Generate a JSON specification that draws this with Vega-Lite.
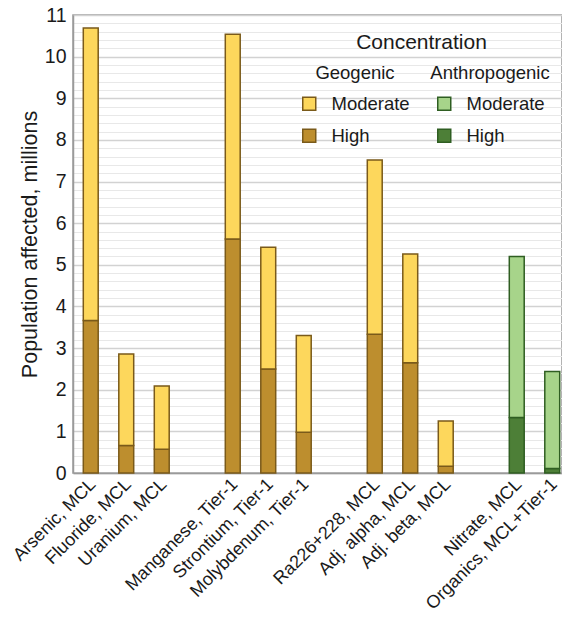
{
  "$schema": "https://vega.github.io/schema/vega-lite/v6.json",
  "autosize": "none",
  "width": 489,
  "height": 458,
  "padding": {"left": 73, "top": 15, "right": 0, "bottom": 146},
  "background": "white",
  "config": {
    "font": "Liberation Sans",
    "view": {"stroke": "#9a9a9a", "strokeWidth": 1.5},
    "axis": {"labelColor": "#1a1a1a", "titleColor": "#1a1a1a"}
  },
  "title": {
    "text": "Concentration",
    "anchor": "middle",
    "frame": "group",
    "orient": "top",
    "offset": 0,
    "dx": 104,
    "dy": 65,
    "baseline": "alphabetic",
    "fontSize": 21,
    "fontWeight": "normal",
    "color": "#1a1a1a"
  },
  "data": {
    "values": [
      {"item": "Arsenic, MCL", "source": "Geogenic", "level": "High", "ord": 0, "value": 3.66},
      {"item": "Arsenic, MCL", "source": "Geogenic", "level": "Moderate", "ord": 1, "value": 7.03},
      {"item": "Fluoride, MCL", "source": "Geogenic", "level": "High", "ord": 0, "value": 0.66},
      {"item": "Fluoride, MCL", "source": "Geogenic", "level": "Moderate", "ord": 1, "value": 2.2},
      {"item": "Uranium, MCL", "source": "Geogenic", "level": "High", "ord": 0, "value": 0.57},
      {"item": "Uranium, MCL", "source": "Geogenic", "level": "Moderate", "ord": 1, "value": 1.52},
      {"item": "Manganese, Tier-1", "source": "Geogenic", "level": "High", "ord": 0, "value": 5.62},
      {"item": "Manganese, Tier-1", "source": "Geogenic", "level": "Moderate", "ord": 1, "value": 4.92},
      {"item": "Strontium, Tier-1", "source": "Geogenic", "level": "High", "ord": 0, "value": 2.5},
      {"item": "Strontium, Tier-1", "source": "Geogenic", "level": "Moderate", "ord": 1, "value": 2.92},
      {"item": "Molybdenum, Tier-1", "source": "Geogenic", "level": "High", "ord": 0, "value": 0.98},
      {"item": "Molybdenum, Tier-1", "source": "Geogenic", "level": "Moderate", "ord": 1, "value": 2.32},
      {"item": "Ra226+228, MCL", "source": "Geogenic", "level": "High", "ord": 0, "value": 3.33},
      {"item": "Ra226+228, MCL", "source": "Geogenic", "level": "Moderate", "ord": 1, "value": 4.19},
      {"item": "Adj. alpha, MCL", "source": "Geogenic", "level": "High", "ord": 0, "value": 2.65},
      {"item": "Adj. alpha, MCL", "source": "Geogenic", "level": "Moderate", "ord": 1, "value": 2.61},
      {"item": "Adj. beta, MCL", "source": "Geogenic", "level": "High", "ord": 0, "value": 0.16},
      {"item": "Adj. beta, MCL", "source": "Geogenic", "level": "Moderate", "ord": 1, "value": 1.09},
      {"item": "Nitrate, MCL", "source": "Anthropogenic", "level": "High", "ord": 0, "value": 1.33},
      {"item": "Nitrate, MCL", "source": "Anthropogenic", "level": "Moderate", "ord": 1, "value": 3.87},
      {"item": "Organics, MCL+Tier-1", "source": "Anthropogenic", "level": "High", "ord": 0, "value": 0.11},
      {"item": "Organics, MCL+Tier-1", "source": "Anthropogenic", "level": "Moderate", "ord": 1, "value": 2.33}
    ]
  },
  "encoding": {
    "x": {
      "field": "item",
      "type": "nominal",
      "scale": {
        "domain": ["Arsenic, MCL", "Fluoride, MCL", "Uranium, MCL", " ", "Manganese, Tier-1", "Strontium, Tier-1", "Molybdenum, Tier-1", "  ", "Ra226+228, MCL", "Adj. alpha, MCL", "Adj. beta, MCL", "   ", "Nitrate, MCL", "Organics, MCL+Tier-1"],
        "range": [0, 497],
        "paddingInner": 0.58,
        "paddingOuter": 0.29
      },
      "axis": {
        "title": null,
        "labelAngle": -45,
        "labelAlign": "right",
        "labelBaseline": "top",
        "labelFontSize": 18,
        "labelPadding": 2,
        "labelOffset": -4,
        "labelLimit": 0,
        "ticks": false,
        "domainColor": "#9a9a9a",
        "domainWidth": 1.5,
        "labelOverlap": false
      }
    },
    "y": {
      "field": "value",
      "type": "quantitative",
      "stack": "zero",
      "scale": {"domain": [0, 11], "nice": false},
      "axis": {
        "title": "Population affected, millions",
        "titleFontSize": 21.5,
        "titleFontWeight": "normal",
        "titlePadding": 3,
        "labelFontSize": 19.5,
        "labelPadding": 7,
        "ticks": false,
        "domainColor": "#9a9a9a",
        "domainWidth": 1.5,
        "values": [0, 0.2, 0.4, 0.6, 0.8, 1, 1.2, 1.4, 1.6, 1.8, 2, 2.2, 2.4, 2.6, 2.8, 3, 3.2, 3.4, 3.6, 3.8, 4, 4.2, 4.4, 4.6, 4.8, 5, 5.2, 5.4, 5.6, 5.8, 6, 6.2, 6.4, 6.6, 6.8, 7, 7.2, 7.4, 7.6, 7.8, 8, 8.2, 8.4, 8.6, 8.8, 9, 9.2, 9.4, 9.6, 9.8, 10, 10.2, 10.4, 10.6, 10.8, 11],
        "labelExpr": "datum.value % 1 === 0 ? format(datum.value, 'd') : ''",
        "gridColor": {"condition": {"test": "datum.value % 1 === 0", "value": "#d2d2d2"}, "value": "#e8e8e8"},
        "gridWidth": {"condition": {"test": "datum.value % 1 === 0", "value": 1.5}, "value": 1},
        "labelOverlap": false
      }
    },
    "order": {"field": "ord", "type": "quantitative"}
  },
  "layer": [
    {
      "transform": [{"filter": "datum.source === 'Geogenic'"}],
      "mark": {"type": "bar", "stroke": "#7a5a1a", "strokeWidth": 1.5},
      "encoding": {
        "color": {
          "field": "level",
          "type": "nominal",
          "scale": {"domain": ["Moderate", "High"], "range": ["#fdd75c", "#bd8e2e"]},
          "legend": {
            "title": "Geogenic",
            "orient": "none",
            "legendX": 227,
            "legendY": 49,
            "titleFontSize": 18.5,
            "titleFontWeight": "normal",
            "titleAnchor": "middle",
            "titlePadding": 12,
            "labelFontSize": 18.5,
            "labelOffset": 13,
            "rowPadding": 12,
            "symbolType": "square",
            "symbolSize": 169,
            "symbolStrokeColor": "#7a5a1a",
            "symbolStrokeWidth": 1.5,
            "symbolOpacity": 1,
            "padding": 0,
            "titleColor": "#1a1a1a",
            "labelColor": "#1a1a1a"
          }
        }
      }
    },
    {
      "transform": [{"filter": "datum.source === 'Anthropogenic'"}],
      "mark": {"type": "bar", "stroke": "#2f5e22", "strokeWidth": 1.5},
      "encoding": {
        "color": {
          "field": "level",
          "type": "nominal",
          "scale": {"domain": ["Moderate", "High"], "range": ["#a7d48a", "#4d7f37"]},
          "legend": {
            "title": "Anthropogenic",
            "orient": "none",
            "legendX": 357,
            "legendY": 49,
            "titleFontSize": 18.5,
            "titleFontWeight": "normal",
            "titleAnchor": "middle",
            "titlePadding": 12,
            "labelFontSize": 18.5,
            "labelOffset": 13,
            "rowPadding": 12,
            "symbolType": "square",
            "symbolSize": 169,
            "symbolStrokeColor": "#2f5e22",
            "symbolStrokeWidth": 1.5,
            "symbolOpacity": 1,
            "padding": 0,
            "titleColor": "#1a1a1a",
            "labelColor": "#1a1a1a"
          }
        }
      }
    }
  ],
  "resolve": {"scale": {"color": "independent"}, "legend": {"color": "independent"}}
}
